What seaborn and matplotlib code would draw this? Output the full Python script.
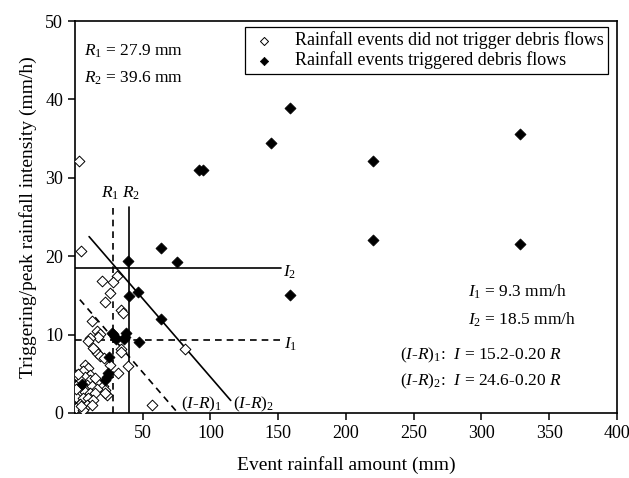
import numpy as np
import pandas as pd
import matplotlib
matplotlib.use("Agg")
import matplotlib.pyplot as plt
import seaborn as sns

# Events that did not trigger debris flows: event rainfall (mm), intensity (mm/h)
no_flow_R = [3.0, 4.2, 30.8, 19.7, 28.3, 25.8, 22.1, 33.9, 35.6, 12.3, 16.0, 18.4,
             17.2, 11.1, 9.8, 34.4, 14.8, 16.0, 18.5, 21.6, 25.8, 39.4, 32.0, 20.9,
             22.1, 23.4, 56.6, 81.2, 7.4, 9.8, 6.1, 11.1, 7.4, 3.7, 11.1, 14.8,
             1.2, 8.6, 12.3, 16.0, 3.7, 7.4, 11.1, 14.8, 1.2, 6.1, 9.8, 13.5,
             3.7, 8.6, 12.3, 1.2, 6.1, 22.1, 34.4, 13.5, 1.0, 0.8, 4.5, 2.5]
no_flow_I = [32.2, 20.7, 17.5, 16.8, 16.7, 15.3, 14.2, 13.1, 12.7, 11.7, 10.5, 10.1,
             9.7, 9.6, 9.2, 8.1, 8.0, 7.6, 7.3, 7.0, 6.1, 6.0, 5.1, 3.4,
             2.9, 2.3, 1.0, 8.1, 6.1, 5.7, 5.3, 4.8, 4.6, 4.2, 4.2, 4.4,
             3.4, 3.6, 3.4, 3.1, 2.7, 2.7, 2.5, 2.5, 2.1, 1.9, 1.9, 1.7,
             1.2, 1.0, 1.0, 0.6, 0.4, 2.5, 7.8, 8.3, 4.8, 3.0, 0.9, 5.0]

# Events that triggered debris flows
flow_R = [158.7, 144.4, 91.8, 94.7, 220.2, 328.4, 220.2, 328.4, 63.5, 75.5,
          158.7, 63.5, 39.4, 46.7, 39.9, 28.3, 37.4, 30.0, 36.4, 47.2,
          25.1, 24.6, 23.4, 22.1, 5.4, 27.1, 29.5, 36.9]
flow_I = [38.9, 34.5, 31.0, 31.0, 32.2, 35.6, 22.1, 21.6, 21.0, 19.2,
          15.1, 12.0, 19.4, 15.4, 14.9, 10.1, 10.2, 9.4, 9.5, 9.1,
          7.1, 5.1, 4.6, 4.2, 3.7, 10.2, 9.7, 9.7]

# Thresholds
R1, R2 = 27.9, 39.6
I1, I2 = 9.3, 18.5
IR1_a, IR2_a, IR_b = 15.2, 24.6, 0.20

label_no = "Rainfall events did not trigger debris flows"
label_yes = "Rainfall events triggered debris flows"

df = pd.concat([
    pd.DataFrame({"R": no_flow_R, "I": no_flow_I, "type": label_no}),
    pd.DataFrame({"R": flow_R, "I": flow_I, "type": label_yes}),
], ignore_index=True)

sns.set_style("ticks")
plt.rcParams["font.family"] = ["Liberation Serif", "DejaVu Serif"]
plt.rcParams["mathtext.fontset"] = "custom"
plt.rcParams["mathtext.rm"] = "Liberation Serif"
plt.rcParams["mathtext.it"] = "Liberation Serif:italic"
plt.rcParams["text.color"] = "black"
plt.rcParams["axes.labelcolor"] = "black"

fig = plt.figure(figsize=(6.29, 4.78), dpi=100)
ax = fig.add_axes([0.119, 0.136, 0.862, 0.820])

sns.scatterplot(data=df[df["type"] == label_no], x="R", y="I", ax=ax,
                marker="D", s=30, facecolor="white", edgecolor="black",
                linewidth=0.7, label=label_no, zorder=3)
sns.scatterplot(data=df[df["type"] == label_yes], x="R", y="I", ax=ax,
                marker="D", s=32, color="black", edgecolor="black",
                linewidth=0.5, label=label_yes, zorder=4)

# Threshold lines
ax.plot([R1, R1], [0, 26.3], color="black", ls=(0, (4, 3)), lw=1.2)
ax.plot([R2, R2], [0, 26.3], color="black", ls="-", lw=1.2)
ax.plot([0, 152], [I1, I1], color="black", ls=(0, (4, 3)), lw=1.2)
ax.plot([0, 152], [I2, I2], color="black", ls="-", lw=1.2)
r1 = np.array([3.7, IR1_a / IR_b])
ax.plot(r1, IR1_a - IR_b * r1, color="black", ls=(0, (4, 3)), lw=1.2)
r2 = np.array([10.5, 115.0])
ax.plot(r2, IR2_a - IR_b * r2, color="black", ls="-", lw=1.2)

fs = 12.5
ax.text(26.0, 28.0, "$R_1$", ha="center", va="center", fontsize=fs)
ax.text(41.5, 28.0, "$R_2$", ha="center", va="center", fontsize=fs)
ax.text(153.5, 17.9, "$I_2$", ha="left", va="center", fontsize=fs)
ax.text(154.5, 8.7, "$I_1$", ha="left", va="center", fontsize=fs)
ax.text(78, 1.1, "($I$-$R$)$_1$", ha="left", va="center", fontsize=fs)
ax.text(117, 1.1, "($I$-$R$)$_2$", ha="left", va="center", fontsize=fs)

ax.text(7.0, 46.1, f"$R_1$ = {R1} mm", ha="left", va="center", fontsize=fs)
ax.text(7.0, 42.7, f"$R_2$ = {R2} mm", ha="left", va="center", fontsize=fs)
ax.text(290, 15.4, f"$I_1$ = {I1} mm/h", ha="left", va="center", fontsize=fs)
ax.text(290, 11.9, f"$I_2$ = {I2} mm/h", ha="left", va="center", fontsize=fs)
ax.text(240, 7.4, f"($I$-$R$)$_1$:  $I$ = {IR1_a}-{IR_b:.2f} $R$",
        ha="left", va="center", fontsize=fs)
ax.text(240, 4.0, f"($I$-$R$)$_2$:  $I$ = {IR2_a}-{IR_b:.2f} $R$",
        ha="left", va="center", fontsize=fs)

ax.set_xlim(0, 400)
ax.set_ylim(0, 50)
ax.set_xticks([50, 100, 150, 200, 250, 300, 350, 400])
ax.set_yticks([0, 10, 20, 30, 40, 50])
ax.tick_params(direction="out", length=5, width=1.1, labelsize=13, colors="black")
for sp in ax.spines.values():
    sp.set_visible(True)
    sp.set_linewidth(1.2)
    sp.set_color("black")

ax.set_xlabel("Event rainfall amount (mm)", fontsize=14, labelpad=10)
ax.set_ylabel("Triggering/peak rainfall intensity (mm/h)", fontsize=14, labelpad=6)

leg = ax.legend(loc="upper right", bbox_to_anchor=(0.983, 0.985), borderaxespad=0,
                fontsize=13, frameon=True, fancybox=False, framealpha=1,
                edgecolor="black", handletextpad=0.9, borderpad=0.25,
                labelspacing=0.12, markerscale=0.75, handlelength=1.6)
leg.get_frame().set_linewidth(0.9)

fig.savefig("out.png", dpi=100)
